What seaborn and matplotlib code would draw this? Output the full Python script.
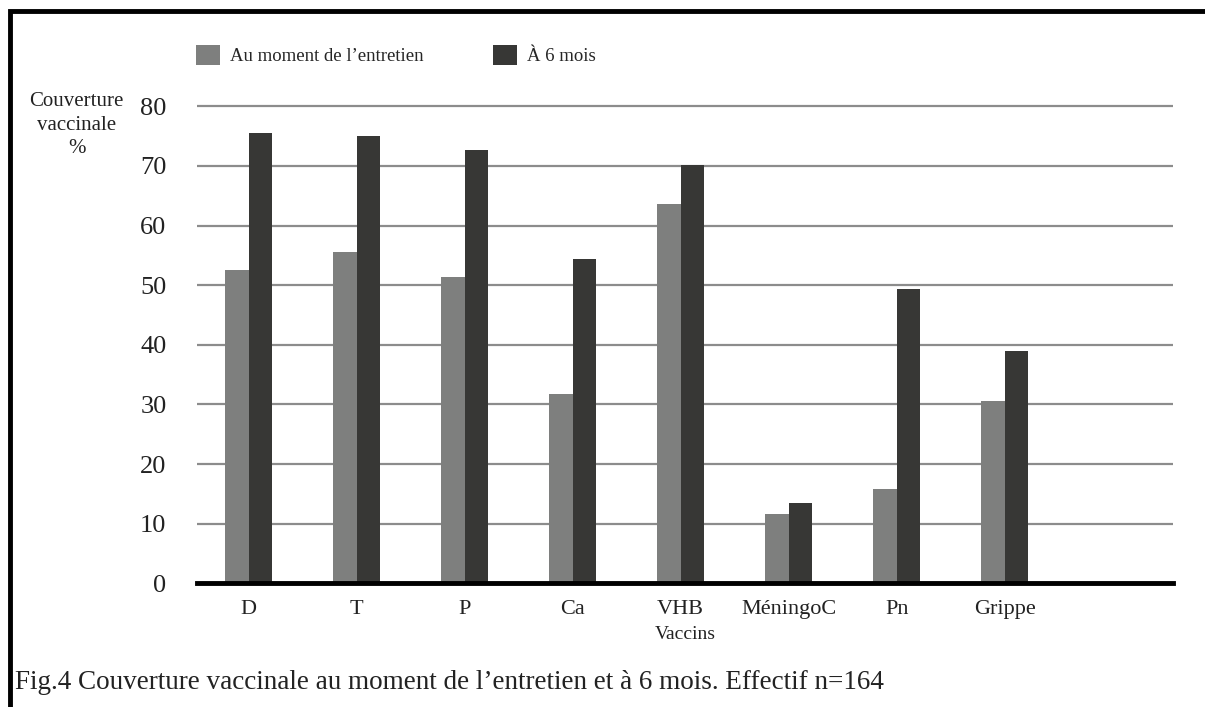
import numpy as np
import pandas as pd
import seaborn as sns
import matplotlib.pyplot as plt
from matplotlib.patches import Rectangle

# values (couverture vaccinale, %)
vaccins = ['D', 'T', 'P', 'Ca', 'VHB', 'MéningoC', 'Pn', 'Grippe']
entretien = [52.6, 55.6, 51.3, 31.7, 63.6, 11.6, 15.8, 30.5]
six_mois = [75.6, 75.1, 72.7, 54.4, 70.2, 13.4, 49.3, 38.9]
series = ['Au moment de l\u2019entretien', 'À 6 mois']
yticks = [0, 10, 20, 30, 40, 50, 60, 70, 80]

df = pd.DataFrame({
    'Vaccins': vaccins * 2,
    'Couverture': entretien + six_mois,
    'Serie': [series[0]] * len(vaccins) + [series[1]] * len(vaccins),
})

sns.set_theme(style='white')
plt.rcParams['font.family'] = ['Liberation Serif', 'DejaVu Serif']

fig = plt.figure(figsize=(12.05, 7.07), dpi=100)
ax = fig.add_axes([0.1635, 0.175, 0.81, 0.683])

sns.barplot(data=df, x='Vaccins', y='Couverture', hue='Serie', order=vaccins,
            hue_order=series, palette=['#7e7f7e', '#373735'], width=0.435,
            gap=0, saturation=1, edgecolor='none', ax=ax, zorder=3)

ax.set_ylim(0, 81)
ax.set_xlim(-0.48, 8.56)
ax.set_yticks(yticks)
ax.yaxis.grid(True, color='#8c8c8c', linewidth=1.6, zorder=0)
ax.set_axisbelow(True)
for s in ['top', 'right', 'left']:
    ax.spines[s].set_visible(False)
ax.spines['bottom'].set_linewidth(3.5)
ax.spines['bottom'].set_color('black')
ax.spines['bottom'].set_zorder(4)
ax.tick_params(axis='both', length=0, colors='#222222')
ax.tick_params(axis='y', labelsize=19, pad=22)
ax.tick_params(axis='x', labelsize=16, pad=12)
ax.set_xlabel('Vaccins', fontsize=14, labelpad=5, color='#222222')
ax.set_ylabel('')

fig.text(0.0635, 0.823, 'Couverture\nvaccinale\n%', ha='center', va='center',
         fontsize=15, linespacing=1.3, color='#222222')

sns.move_legend(ax, 'center left', bbox_to_anchor=(0.163, 0.922),
                bbox_transform=fig.transFigure, ncol=2, frameon=False,
                title=None, fontsize=13.5, handlelength=1.28, handleheight=1.28,
                handletextpad=0.53, columnspacing=3.7, borderpad=0,
                borderaxespad=0)

fig.text(0.0125, 0.034, 'Fig.4 Couverture vaccinale au moment de l\u2019entretien et à 6 mois. Effectif n=164',
         fontsize=19.5, color='#222222', ha='left', va='center')

# frame (top and left edges of the cropped figure box)
fig.patches.append(Rectangle((0.0085, -0.05), 1.2, 1.035, transform=fig.transFigure,
                             fill=False, edgecolor='black', linewidth=3.5))

fig.savefig('out.png', dpi=100)
